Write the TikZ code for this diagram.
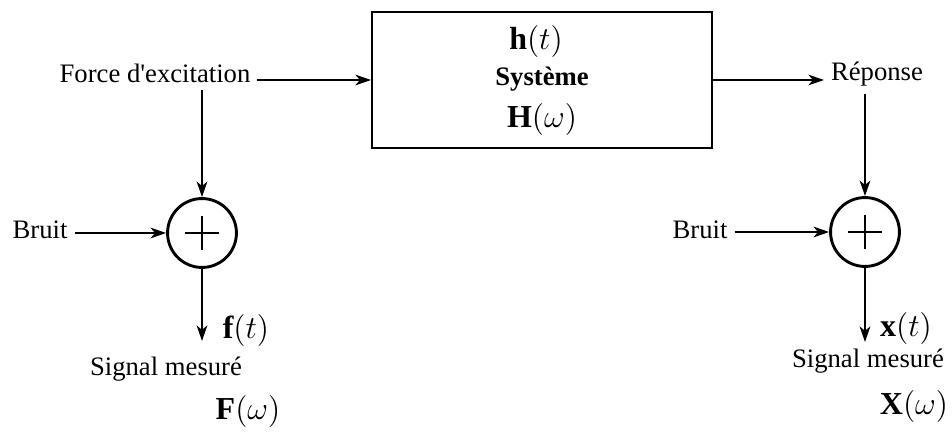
\documentclass[tikz,border=0pt]{standalone}
\usepackage{fontspec}
\setmainfont{Liberation Serif}
\usetikzlibrary{arrows.meta}

\begin{document}
\begin{tikzpicture}[x=0.45pt,y=-0.45pt,font=\large,
		fleche/.style={-{Stealth[length=7pt,width=4.8pt,inset=2pt]},line width=0.9pt},
		somme/.style={circle,draw,line width=1.3pt,minimum size=31pt,inner sep=0pt},
		texte/.style={anchor=base,inner sep=3pt},
		maths/.style={anchor=base,inner sep=3pt,font=\Large}]
		\useasboundingbox (0,0) rectangle (952,433);
		% systeme
		\node[draw,line width=0.9pt,minimum width=153pt,minimum height=61pt,inner sep=0pt] (sys) at (542,80) {};
		\node[maths] (ht) at (536,50) {$\mathbf{h}(t)$};
		\node[texte] (nom) at (542,86) {\textbf{Système}};
		\node[maths] (Hw) at (542,128) {$\mathbf{H}(\omega)$};
		% entree et sortie
		\node[texte] (force) at (155,83) {Force d\textquotesingle excitation};
		\node[texte] (rep) at (877,81) {Réponse};
		\draw[fleche] (force.east |- sys.west) -- (sys.west);
		\draw[fleche] (sys.east) -- (sys.east -| rep.west);
		% sommateurs
		\node[somme] (sumF) at (202,233) {};
		\node[somme] (sumX) at (865,232) {};
		\foreach \s in {sumF,sumX} \draw[line width=0.9pt] (\s.center) ++(-17,0) -- ++(34,0) (\s.center) ++(0,-17) -- ++(0,34);
		\node[texte] (bruitF) at (40,238) {Bruit};
		\node[texte] (bruitX) at (700,238) {Bruit};
		\draw[fleche] (bruitF.east |- sumF) -- (sumF.west);
		\draw[fleche] (bruitX.east |- sumX) -- (sumX.west);
		\draw[fleche] (force.south -| sumF) -- (sumF.north);
		\draw[fleche] (rep.south -| sumX) -- (sumX.north);
		% signaux mesures
		\coordinate (finF) at (202,341);
		\coordinate (finX) at (865,342);
		\draw[fleche] (sumF.south) -- (finF);
		\draw[fleche] (sumX.south) -- (finX);
		\node[maths] (ft) at (246,338) {$\mathbf{f}(t)$};
		\node[texte] (mesF) at (166,375) {Signal mesuré};
		\node[maths] (Fw) at (248,420) {$\mathbf{F}(\omega)$};
		\node[maths] (xt) at (906,337) {$\mathbf{x}(t)$};
		\node[texte] (mesX) at (868,368) {Signal mesuré};
		\node[maths] (Xw) at (914,415) {$\mathbf{X}(\omega)$};
\end{tikzpicture}
\end{document}
